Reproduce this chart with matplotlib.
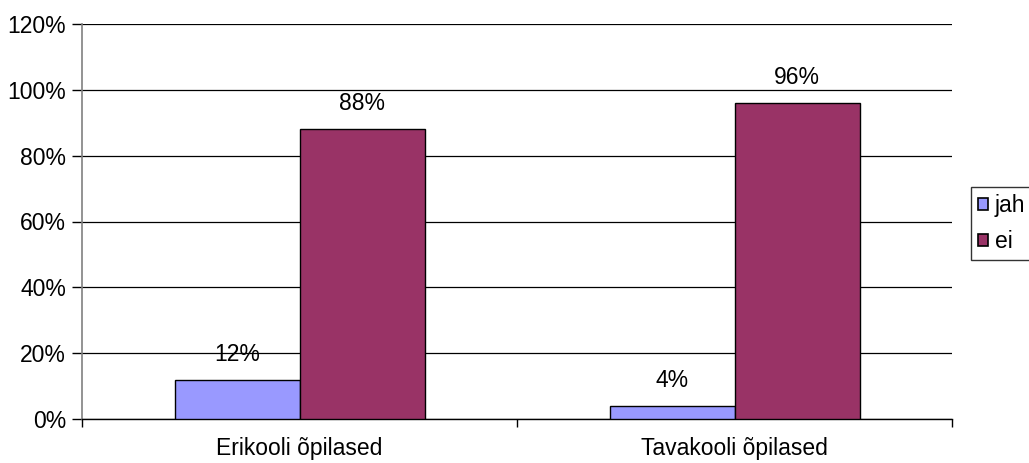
import matplotlib
matplotlib.use("Agg")
import matplotlib.pyplot as plt
import numpy as np

categories = ["Erikooli õpilased", "Tavakooli õpilased"]
series_names = ["jah", "ei"]
jah_values = [12, 4]
ei_values = [88, 96]
yticks = [0, 20, 40, 60, 80, 100, 120]
colors = ["#9999FF", "#993366"]

plt.rcParams['font.family'] = ['Liberation Sans', 'DejaVu Sans']
FS = 16.5

W, H = 1029, 463
fig = plt.figure(figsize=(W / 100, H / 100), dpi=100)
ax = fig.add_axes([82 / W, 1 - 419 / H, (952 - 82) / W, (419 - 24) / H])

x = np.arange(len(categories))
bw = 125 / 435
for i, (name, vals) in enumerate(zip(series_names, [jah_values, ei_values])):
    ax.bar(x + (i - 0.5) * bw, vals, width=bw, color=colors[i],
           edgecolor="black", linewidth=1.0, label=name, zorder=3)
    for xi, v in zip(x + (i - 0.5) * bw, vals):
        ax.annotate(f"{v}%", (xi, v), xytext=(0, 10), textcoords="offset points",
                    ha="center", va="bottom", fontsize=FS, zorder=4)

ax.set_xlim(-0.5, 1.5)
ax.set_ylim(0, 120)
ax.set_yticks(yticks)
ax.set_yticklabels([f"{t}%" for t in yticks], fontsize=FS)
ax.yaxis.grid(True, color="black", linewidth=0.9, zorder=0)
ax.set_axisbelow(True)

ax.set_xticks([-0.5, 0.5, 1.5])
ax.set_xticklabels([])
ax.set_xticks(x, minor=True)
ax.set_xticklabels(categories, minor=True, fontsize=FS)
ax.tick_params(axis="x", which="major", direction="out", length=6, width=1, color="black")
ax.tick_params(axis="x", which="minor", length=0, pad=13)
ax.tick_params(axis="y", direction="out", length=7, width=1, color="black", pad=4.5)

for s in ["top", "right"]:
    ax.spines[s].set_visible(False)
ax.spines["left"].set_color("#808080")
ax.spines["left"].set_linewidth(1.2)
ax.spines["bottom"].set_color("black")
ax.spines["bottom"].set_linewidth(1.0)

leg = fig.legend(loc="upper left", bbox_to_anchor=(971 / W, 1 - 187 / H),
                 fontsize=FS, frameon=True, fancybox=False, shadow=False,
                 handlelength=0.42, handleheight=0.42, handletextpad=0.3,
                 labelspacing=0.55, borderpad=0.32, borderaxespad=0)
leg.get_frame().set_edgecolor("black")
leg.get_frame().set_linewidth(1.0)
for p in leg.get_patches():
    p.set_linewidth(1.2)

fig.savefig("out.png", dpi=100)
